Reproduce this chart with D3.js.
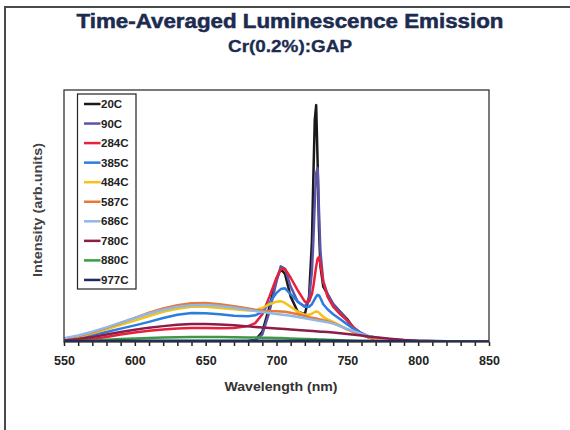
<!DOCTYPE html>
<html>
<head>
<meta charset="utf-8">
<script src="https://cdn.jsdelivr.net/npm/d3@7"></script>
<style>
  body { margin: 0; background: #fff; }
  svg { display: block; font-family: "Liberation Sans", Arial, sans-serif; }
</style>
</head>
<body>
<div id="chart-area"></div>
<script>
// wavelength grid (nm), shared by every series
var wavelengths = [550,560,570,580,590,600,610,620,630,640,650,660,670,680,685,690,695,700,703,706,710,715,720,723,725,726,727,728,729,730,731,733,736,740,745,750,755,760,765,770,780,790,800,820,850]

var s20C  = [0,0,0,0,0,0,0,0,0,0,0,0,0,0.3,0.8,4,14,25,29,27,18,12,11,18,40,65,88,94,72,45,30,22,19,15,12,9,5,3,1.8,1.2,0.6,0.3,0.2,0.1,0]
var s90C  = [0,0,0,0,0,0,0,0,0,0,0,0,0,0.3,0.8,3,12,24,30,29,22,16,14,17,28,40,55,67,69,52,36,24,19,15,12,8.5,5,3,1.8,1.2,0.6,0.3,0.2,0.1,0]
var s284C = [0.3,0.6,1.2,2,3,3.8,4.5,5,5.4,5.6,5.6,5.5,5.6,6.3,7.5,11,18,25.5,29,29,25.5,20.5,16,16,19,22,26,30,33,33.7,31,24,18,14,11,8.5,5.5,3.5,2,1.3,0.7,0.4,0.3,0.1,0]
var s385C = [1,1.8,2.8,4,5.3,6.6,8,9.5,10.8,11.5,11.4,11,10.4,10.2,10.6,12,15.5,19.5,21,21.3,19,16,14,14,15,16,17,18,18.7,18.5,17.5,15,13,11,9,7,5,3.5,2.3,1.6,1,0.7,0.5,0.3,0.1]
var s484C = [1,2,3.5,5,6.8,8.5,10.3,12,13.2,14,14,13.5,13,12.5,12.5,13.5,15,16,16.2,15.5,14,12,10.8,10.8,11.2,11.6,11.9,12.1,12,11.7,11,10,9,8,6.5,5,3.8,2.8,2,1.4,0.9,0.6,0.4,0.2,0.1]
var s587C = [1.2,2.3,3.8,5.6,7.6,9.6,11.6,13.3,14.6,15.4,15.5,15,14.2,13.3,12.8,12.5,12.3,12.2,12.1,12,11.6,11,10.3,9.8,9.6,9.5,9.4,9.3,9.2,9,8.9,8.6,8.2,7.5,6.3,5,3.8,2.7,1.9,1.4,0.9,0.6,0.4,0.2,0.1]
var s686C = [1.5,2.6,4.1,5.8,7.7,9.5,11.3,12.8,14,14.6,14.7,14.3,13.6,12.8,12.3,11.9,11.5,11.1,10.9,10.7,10.4,9.9,9.4,9.1,8.9,8.8,8.7,8.6,8.5,8.4,8.3,8.1,7.8,7.3,6.3,5.2,4.2,3.2,2.4,1.8,1.1,0.8,0.6,0.3,0.15]
var s780C = [0.6,1.2,2,3,4,4.9,5.7,6.3,6.8,7.1,7.1,6.9,6.6,6.2,6,5.8,5.6,5.4,5.3,5.2,5,4.8,4.6,4.5,4.4,4.4,4.3,4.3,4.2,4.2,4.1,4.1,4,3.8,3.5,3.2,2.9,2.6,2.2,1.9,1.3,0.8,0.5,0.2,0.1]
var s880C = [0.2,0.4,0.6,0.9,1.2,1.4,1.6,1.8,1.9,2,2,2,1.9,1.8,1.75,1.7,1.65,1.6,1.55,1.5,1.4,1.3,1.2,1.15,1.1,1.1,1.05,1.05,1,1,1,0.95,0.9,0.8,0.7,0.6,0.5,0.4,0.35,0.3,0.2,0.15,0.1,0.05,0]
var s977C = [0.3,0.35,0.4,0.4,0.45,0.45,0.5,0.5,0.5,0.5,0.5,0.5,0.5,0.5,0.5,0.5,0.5,0.5,0.5,0.5,0.5,0.5,0.5,0.5,0.5,0.5,0.5,0.5,0.5,0.5,0.5,0.5,0.5,0.45,0.45,0.4,0.4,0.35,0.35,0.3,0.3,0.25,0.2,0.2,0.15]

var seriesNames = ["20C","90C","284C","385C","484C","587C","686C","780C","880C","977C"]
var seriesValues = [s20C, s90C, s284C, s385C, s484C, s587C, s686C, s780C, s880C, s977C]
var seriesColors = ["#1a1a1a","#5a55a8","#e8203c","#2b7de0","#f4c21a","#e8783a","#8fb8e6","#8c1c48","#3c9a44","#1c2a66"]

var xTicks = d3.range(550, 851, 10)

var cw = 570
var ch = 430
var m = {l: 64, t: 90, r: 81, b: 88}
var w = cw - m.l - m.r
var h = ch - m.t - m.b

var svg = d3.select("#chart-area").append("svg")
    .attr("width", cw)
    .attr("height", ch)

// page frame (top and left edges)
svg.append("path")
    .attr("d", "M5,430 L5,7 L570,7")
    .attr("fill", "none")
    .attr("stroke", "#4a4a4a")
    .attr("stroke-width", 2)

svg.append("text")
    .attr("x", 290)
    .attr("y", 28)
    .attr("text-anchor", "middle")
    .attr("font-size", "19.5px")
    .attr("font-weight", "bold")
    .attr("fill", "#1c2b4f")
    .attr("stroke", "#1c2b4f")
    .attr("stroke-width", 0.5)
    .attr("textLength", 427)
    .attr("lengthAdjust", "spacingAndGlyphs")
    .text("Time-Averaged Luminescence Emission")

svg.append("text")
    .attr("x", 290)
    .attr("y", 52)
    .attr("text-anchor", "middle")
    .attr("font-size", "16px")
    .attr("font-weight", "bold")
    .attr("fill", "#1c2b4f")
    .attr("stroke", "#1c2b4f")
    .attr("stroke-width", 0.3)
    .attr("textLength", 124)
    .attr("lengthAdjust", "spacingAndGlyphs")
    .text("Cr(0.2%):GAP")

var g = svg.append("g").attr("transform", "translate(" + m.l + ", " + m.t + ")")

var x = d3.scaleLinear().domain([550, 850]).range([0, w])
var y = d3.scaleLinear().domain([0, 100]).range([h, 0])

g.append("clipPath").attr("id", "plot-clip")
  .append("rect").attr("x", 0).attr("y", 0).attr("width", w).attr("height", h)

var bottomAxis = d3.axisBottom(x)
    .tickValues(xTicks)
    .tickSize(4)
    .tickSizeOuter(0)
    .tickPadding(10)
    .tickFormat(d => d % 50 === 0 ? d : "")

var xAxisGroup = g.append("g")
    .attr("class", "bottom axis")
    .attr("transform", "translate(0, " + h + ")")
    .call(bottomAxis)

xAxisGroup.select(".domain").remove()
xAxisGroup.selectAll("line").attr("stroke", "#222").attr("stroke-width", 1.5)
xAxisGroup.selectAll("text")
    .attr("font-size", "12.5px")
    .attr("font-weight", "bold")
    .attr("font-family", "Liberation Sans, Arial, sans-serif")
    .attr("fill", "#222")

g.append("text")
    .attr("class", "x axis-label")
    .attr("x", 281 - m.l)
    .attr("y", 391 - m.t)
    .attr("font-size", "13.5px")
    .attr("font-weight", "bold")
    .attr("text-anchor", "middle")
    .attr("fill", "#333")
    .attr("textLength", 113)
    .attr("lengthAdjust", "spacingAndGlyphs")
    .text("Wavelength (nm)")

g.append("text")
    .attr("class", "y axis-label")
    .attr("x", -(210 - m.t))
    .attr("y", 42 - m.l)
    .attr("font-size", "13.5px")
    .attr("font-weight", "bold")
    .attr("text-anchor", "middle")
    .attr("fill", "#444")
    .attr("transform", "rotate(-90)")
    .attr("textLength", 134)
    .attr("lengthAdjust", "spacingAndGlyphs")
    .text("Intensity (arb.units)")

var line = d3.line()
    .x((d, i) => x(wavelengths[i]))
    .y(d => y(d))

g.append("g")
    .attr("clip-path", "url(#plot-clip)")
    .selectAll("path")
    .data(seriesValues)
    .enter()
    .append("path")
    .attr("d", d => line(d))
    .attr("fill", "none")
    .attr("stroke", (d, i) => seriesColors[i])
    .attr("stroke-width", 2.5)
    .attr("stroke-linejoin", "round")

// plot frame
g.append("rect")
    .attr("width", w)
    .attr("height", h)
    .attr("fill", "none")
    .attr("stroke", "#333")
    .attr("stroke-width", 1.3)

// legend
var legend = g.append("g").attr("transform", "translate(" + (77.5 - m.l) + ", " + (94 - m.t) + ")")
legend.append("rect")
    .attr("width", 58.5)
    .attr("height", 195)
    .attr("fill", "#fff")
    .attr("stroke", "#222")
    .attr("stroke-width", 1.2)

var items = legend.selectAll(".item")
    .data(seriesNames)
    .enter()
    .append("g")
    .attr("class", "item")
    .attr("transform", (d, i) => "translate(0, " + (10 + i * 19.55) + ")")

items.append("line")
    .attr("x1", 6.5)
    .attr("x2", 23)
    .attr("stroke", (d, i) => seriesColors[i])
    .attr("stroke-width", 2.5)

items.append("text")
    .attr("x", 23.5)
    .attr("y", 4)
    .attr("font-size", "11.5px")
    .attr("font-weight", "bold")
    .attr("fill", "#222")
    .text(d => d)
</script>
</body>
</html>
